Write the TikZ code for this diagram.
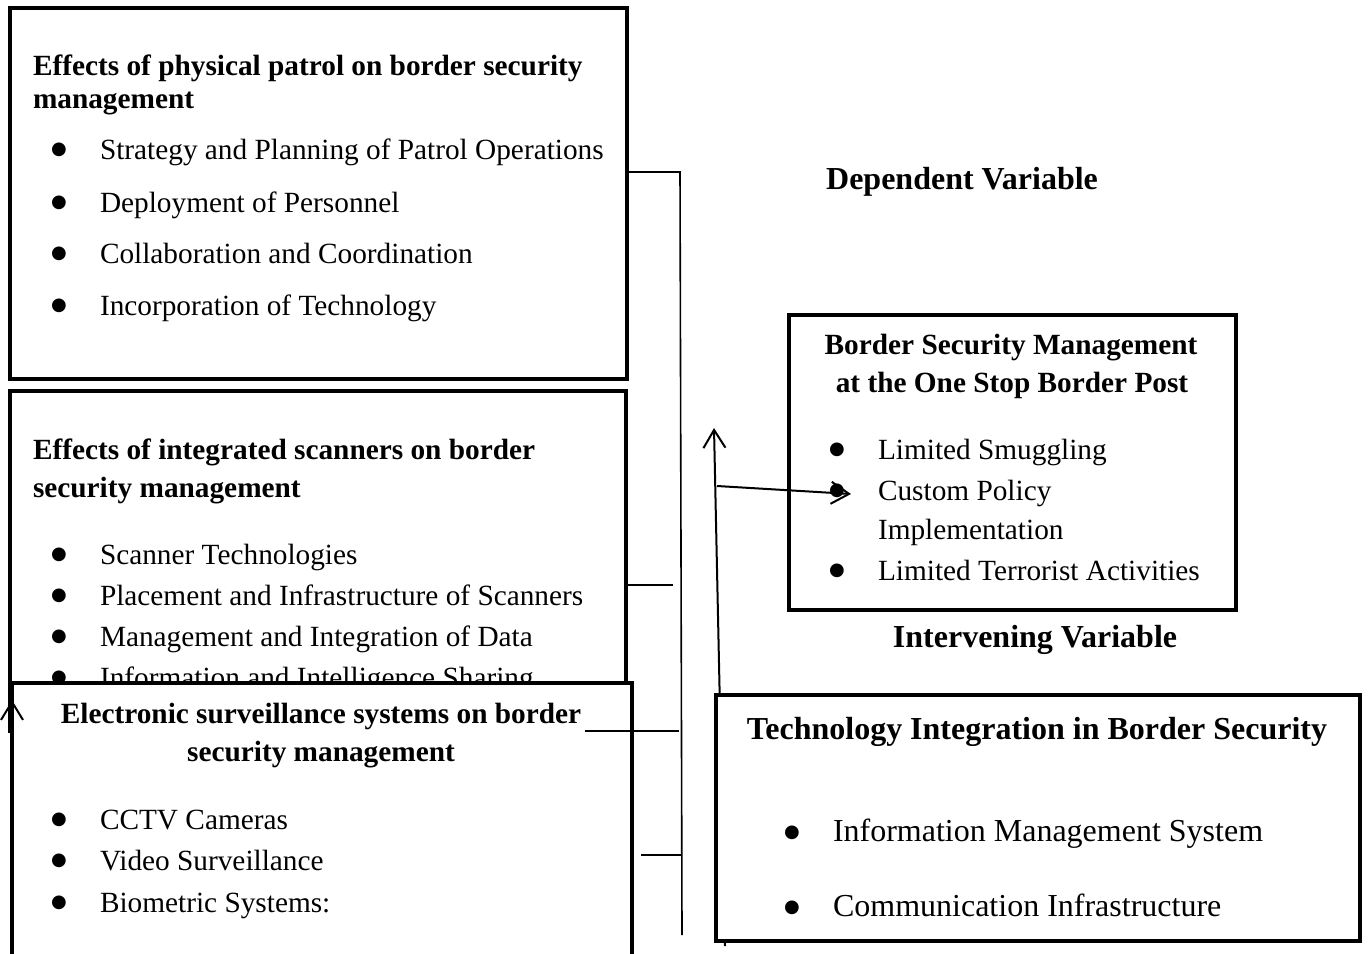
\documentclass[tikz,border=0pt]{standalone}
\usepackage{fontspec}
\setmainfont{Liberation Serif}
\newfontfamily\dotfont{DejaVu Sans}
\usetikzlibrary{arrows.meta}
\tikzstyle{every node}=[inner sep=0pt,outer sep=0pt]
\tikzstyle{frame}=[draw=black,line width=2.2pt,anchor=north west,fill=white]
\tikzstyle{head}=[font=\fontsize{14.65}{17}\selectfont\bfseries,anchor=base west]
\tikzstyle{headmid}=[font=\fontsize{14.65}{17}\selectfont\bfseries,anchor=base]
\tikzstyle{txt}=[font=\fontsize{14.65}{17}\selectfont,anchor=base west]
\tikzstyle{dot}=[font=\dotfont\fontsize{9}{10}\selectfont,anchor=base,yshift=2.4pt]
\tikzstyle{bighead}=[font=\fontsize{16}{19}\selectfont\bfseries,anchor=base]
\tikzstyle{bigtxt}=[font=\fontsize{16}{19}\selectfont,anchor=base west]
\tikzstyle{link}=[line width=0.8pt]
\tikzstyle{arr}=[line width=1pt,-{Straight Barb[length=9pt,width=11pt]}]

\begin{document}
\begin{tikzpicture}[x=0.5pt,y=-0.5pt]
\useasboundingbox (0,0) rectangle (1368,953);

% points where the lines meet
\coordinate (busTop) at (680,172);
\coordinate (busEnd) at (682,935);
\coordinate (scanJoin) at (673,585);
\coordinate (survJoin) at (679,731);
\coordinate (bioJoin) at (681,855);
\coordinate (upTip) at (714,428);
\coordinate (upFoot) at (725,946);
\coordinate (fork) at (717,486);
\coordinate (forkTip) at (851,494);

% physical patrol
\node[frame,minimum width=308.5pt,minimum height=185.5pt] (patrol) at (10,8) {};
\node[head] (patrolHead) at (33,75) {Effects of physical patrol on border security};
\node[head] (patrolHeadB) at (33,108) {management};
\node[dot] (patrolDotA) at (59,159) {●};
\node[txt] (patrolA) at (100,159) {Strategy and Planning of Patrol Operations};
\node[dot] (patrolDotB) at (59,212) {●};
\node[txt] (patrolB) at (100,212) {Deployment of Personnel};
\node[dot] (patrolDotC) at (59,263) {●};
\node[txt] (patrolC) at (100,263) {Collaboration and Coordination};
\node[dot] (patrolDotD) at (59,315) {●};
\node[txt] (patrolD) at (100,315) {Incorporation of Technology};

% integrated scanners
\node[frame,minimum width=308pt,minimum height=170pt] (scanner) at (10,391) {};
\node[head] (scannerHead) at (33,459) {Effects of integrated scanners on border};
\node[head] (scannerHeadB) at (33,497) {security management};
\node[dot] (scannerDotA) at (59,564) {●};
\node[txt] (scannerA) at (100,564) {Scanner Technologies};
\node[dot] (scannerDotB) at (59,605) {●};
\node[txt] (scannerB) at (100,605) {Placement and Infrastructure of Scanners};
\node[dot] (scannerDotC) at (59,646) {●};
\node[txt] (scannerC) at (100,646) {Management and Integration of Data};
\node[dot] (scannerDotD) at (59,687) {●};
\node[txt] (scannerD) at (100,687) {Information and Intelligence Sharing};

\draw[link] (patrol.east |- busTop) -- (busTop) -- (busEnd);
\draw[link] (scanner.east |- scanJoin) -- (scanJoin);

% electronic surveillance
\node[frame,minimum width=310pt,minimum height=150pt] (surv) at (12,683) {};
\node[headmid] (survHead) at (321,723) {Electronic surveillance systems on border};
\node[headmid] (survHeadB) at (321,761) {security management};
\node[dot] (survDotA) at (59,829) {●};
\node[txt] (survA) at (100,829) {CCTV Cameras};
\node[dot] (survDotB) at (59,870) {●};
\node[txt] (survB) at (100,870) {Video Surveillance};
\node[dot] (survDotC) at (59,912) {●};
\node[txt] (survC) at (100,912) {Biometric Systems:};
\draw[arr] ([yshift=-48pt]surv.north west) -- ([yshift=-8.5pt]surv.north west);

\draw[link] (survJoin) -- ++(-94,0);
\draw[link] (bioJoin) -- ++(-40,0);

% dependent variable
\node[bighead] (depLabel) at (962,189) {Dependent Variable};
\node[frame,minimum width=223.5pt,minimum height=147.5pt] (bsm) at (789,315) {};
\node[headmid] (bsmHead) at (1011,354) {Border Security Management};
\node[headmid] (bsmHeadB) at (1012,392) {at the One Stop Border Post};
\node[dot] (bsmDotA) at (837,459) {●};
\node[txt] (bsmA) at (878,459) {Limited Smuggling};
\node[dot] (bsmDotB) at (837,500) {●};
\node[txt] (bsmB) at (878,500) {Custom Policy};
\node[txt] (bsmBB) at (878,539) {Implementation};
\node[dot] (bsmDotC) at (837,580) {●};
\node[txt] (bsmC) at (878,580) {Limited Terrorist Activities};
\node[bighead] (intLabel) at (1035,647) {Intervening Variable};

% intervening variable
\draw[arr] (upFoot) -- (upTip);
\draw[arr] (fork) -- (forkTip);
\node[frame,minimum width=322pt,minimum height=123pt] (tech) at (716,695) {};
\node[bighead] (techHead) at (1037,739) {Technology Integration in Border Security};
\node[dot] (techDotA) at (792,842) {●};
\node[bigtxt] (techA) at (833,841) {Information Management System};
\node[dot] (techDotB) at (792,917) {●};
\node[bigtxt] (techB) at (833,916) {Communication Infrastructure};
\end{tikzpicture}
\end{document}
